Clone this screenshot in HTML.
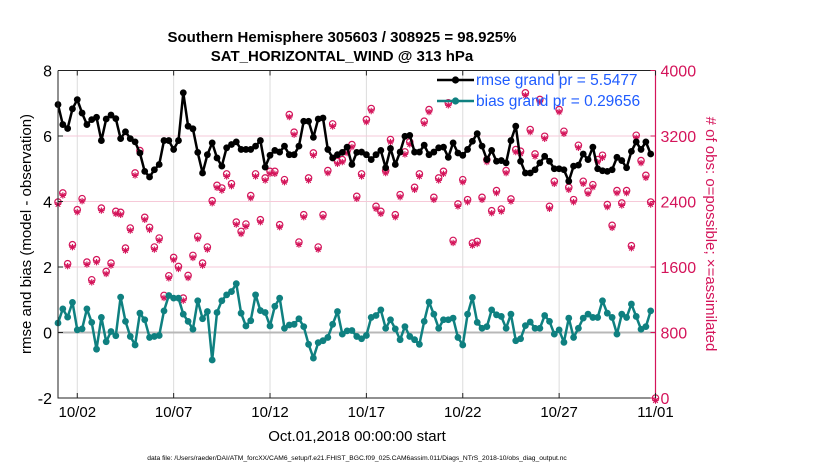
<!DOCTYPE html>
<html><head><meta charset="utf-8"><style>
body{margin:0;background:#fff;}
svg{display:block;font-family:"Liberation Sans",Arial,sans-serif;}
</style></head><body>
<svg id="chart" width="830" height="470" viewBox="0 0 830 470" xmlns="http://www.w3.org/2000/svg">
<g font-weight="bold" font-size="15" text-anchor="middle" fill="#000">
<text x="342" y="42">Southern Hemisphere 305603 / 308925 = 98.925%</text>
<text x="342" y="61">SAT_HORIZONTAL_WIND @ 313 hPa</text>
</g>
<g id="grid"></g>
<g id="marks"></g>
<g id="axes"></g>
<text x="31" y="234" transform="rotate(-90 31 234)" text-anchor="middle" font-size="15" fill="#000">rmse and bias (model - observation)</text>
<text x="706" y="234" transform="rotate(90 706 234)" text-anchor="middle" font-size="15" fill="#d4145a"># of obs: o=possible; ×=assimilated</text>
<text x="357" y="441" text-anchor="middle" font-size="15" fill="#000">Oct.01,2018 00:00:00 start</text>
<text x="357" y="460" text-anchor="middle" font-size="6.7" fill="#000">data file: /Users/raeder/DAI/ATM_forcXX/CAM6_setup/f.e21.FHIST_BGC.f09_025.CAM6assim.011/Diags_NTrS_2018-10/obs_diag_output.nc</text>
<g id="legend"></g>
</svg>
<script>
const rmse=[6.96,6.35,6.23,6.83,7.11,6.7,6.35,6.5,6.57,5.86,6.52,6.64,6.53,5.92,6.13,5.92,5.82,5.48,4.92,4.75,4.97,5.13,5.86,5.86,5.59,5.86,7.32,6.3,6.22,5.5,4.87,5.43,5.79,5.33,5.08,5.64,5.74,5.82,5.59,5.59,5.59,5.69,5.86,5.05,5.41,5.56,5.51,5.69,5.43,5.43,5.69,6.45,6.45,5.96,6.52,6.55,5.59,5.33,5.43,5.5,5.66,5.13,5.5,5.51,5.43,5.28,5.43,5.56,5.03,5.62,5.13,5.51,5.99,6.02,5.51,5.51,5.72,5.43,5.51,5.64,5.66,5.35,5.79,5.48,5.41,5.59,5.84,6.07,5.69,5.28,5.56,5.23,5.25,5.18,5.86,6.3,5.23,4.87,4.87,4.97,5.18,5.38,5.23,5.0,5.0,4.97,4.62,5.08,5.11,5.45,5.28,5.66,5.0,4.94,4.92,4.97,5.35,5.25,5.03,5.53,5.82,5.59,5.82,5.45];
const bias=[0.29,0.72,0.47,0.92,0.08,0.11,0.72,0.31,-0.51,0.46,-0.28,0.03,-0.1,1.08,0.34,-0.12,-0.38,0.59,0.39,-0.15,-0.12,-0.09,0.66,1.13,1.05,1.05,0.56,0.34,0.1,0.97,0.42,0.64,-0.84,0.61,0.97,1.15,1.25,1.49,0.59,0.2,0.36,1.15,0.67,0.61,0.2,0.8,1.05,0.13,0.23,0.25,0.42,0.18,-0.36,-0.78,-0.31,-0.25,-0.15,0.25,0.64,-0.05,0.05,0.06,-0.12,-0.19,-0.09,0.46,0.52,0.69,0.13,0.39,0.11,-0.22,0.18,-0.12,-0.22,-0.36,0.34,0.93,0.56,0.13,0.39,0.39,0.44,-0.15,-0.38,0.56,1.07,0.31,0.13,0.18,0.69,0.54,0.49,0.13,0.56,-0.25,-0.19,0.21,0.32,0.13,0.13,0.52,0.34,-0.05,0.08,-0.3,0.44,-0.15,0.13,0.44,0.56,0.46,0.46,0.97,0.59,0.46,-0.05,0.56,0.46,0.87,0.49,0.1,0.18,0.66];
const obsCount=[2394,2504,1640,1872,2300,2435,1660,1444,1689,2320,1546,1648,2280,2268,1831,2076,2749,3022,2207,2084,1844,1954,1253,1493,1717,1607,1220,1497,1742,1974,1648,1844,2410,2598,2565,2737,2618,2149,2035,2125,2472,2737,2178,2688,2769,2769,2117,2667,3462,3246,1905,2239,2688,2993,1844,2239,2778,3348,2891,2912,3022,3095,2463,2737,3401,3536,2341,2280,2778,3157,2239,2484,3006,3128,2573,2737,3381,3523,2451,2688,2769,3605,1925,2370,2667,2423,1893,1913,2451,2912,2288,2533,2308,2778,2431,3034,3014,3727,3279,2981,3646,3197,2341,2647,3523,3258,2573,2423,3087,2647,2525,2606,2912,2965,2362,2109,2533,2382,2533,1860,3209,2900,2720,2394,0];
const leftTicks=[-2,0,2,4,6,8];
const rightTicks=[0,800,1600,2400,3200,4000];
const dateTicks=[1,6,11,16,21,26,31];
const dateLabels=['10/02','10/07','10/12','10/17','10/22','10/27','11/01'];
const legendLabels=['rmse grand pr = 5.5477','bias grand pr = 0.29656'];

const X0=58,X1=655.5,Y0=70.5,Y1=398;
const NS='http://www.w3.org/2000/svg';
const PINK='#d4145a',TEAL='#0f8080';
function xs(d){return X0+(d/31)*(X1-X0);}
function yl(v){return Y1-(v+2)/10*(Y1-Y0);}
function yr(c){return Y1-c/4000*(Y1-Y0);}
function mk(tag,attrs,parent){const e=document.createElementNS(NS,tag);for(const k in attrs)e.setAttribute(k,attrs[k]);parent.appendChild(e);return e;}
const grid=document.getElementById('grid'),marks=document.getElementById('marks'),axes=document.getElementById('axes'),leg=document.getElementById('legend');

dateTicks.forEach((d,i)=>{const l=mk('line',{x1:xs(d),x2:xs(d),y1:Y0,y2:Y1,stroke:'#dcdcdc','stroke-width':1},grid);

});
[1600,2400,3200].forEach(c=>{const l=mk('line',{x1:X0,x2:X1,y1:yr(c),y2:yr(c),stroke:'#f6c9d8','stroke-width':1},grid);

});
const zl=mk('line',{x1:X0,x2:X1,y1:yl(0),y2:yl(0),stroke:'#b8b8b8','stroke-width':2},grid);



obsCount.forEach((c,i)=>{const x=xs(i/4),y=yr(c);
const g=mk('g',{},marks);


mk('circle',{cx:x,cy:y,r:3.2,fill:'none',stroke:PINK,'stroke-width':1.2},g);
const ay=y+2.5,s=3.2;
mk('path',{d:`M${x-s},${ay}H${x+s}M${x},${ay-s}V${ay+s}M${x-2.3},${ay-2.3}L${x+2.3},${ay+2.3}M${x-2.3},${ay+2.3}L${x+2.3},${ay-2.3}`,stroke:PINK,'stroke-width':1.1},g);
});

function series(vals,color,name){
const pts=vals.map((v,i)=>xs(i/4).toFixed(1)+','+yl(v).toFixed(1)).join(' ');
const pl=mk('polyline',{points:pts,fill:'none',stroke:color,'stroke-width':2.5,'stroke-linejoin':'round'},marks);


vals.forEach((v,i)=>{const c=mk('circle',{cx:xs(i/4),cy:yl(v),r:3.4,fill:color},marks);

});
}
series(rmse,'#000','rmse');
series(bias,TEAL,'bias');

const lf=mk('path',{d:`M${X0},${Y0}H${X1}M${X0},${Y0}V${Y1}H${X1}`,fill:'none',stroke:'#222','stroke-width':1},axes);


const ra=mk('line',{x1:X1,x2:X1,y1:Y0,y2:Y1,stroke:PINK,'stroke-width':1.2},axes);


leftTicks.forEach(v=>{const y=yl(v);
mk('line',{x1:X0,x2:X0+5,y1:y,y2:y,stroke:'#222'},axes);
const t=mk('text',{x:X0-6,y:y+6,'text-anchor':'end','font-size':16,fill:'#000'},axes);


t.textContent=v;});
rightTicks.forEach(c=>{const y=yr(c);
mk('line',{x1:X1-5,x2:X1,y1:y,y2:y,stroke:PINK},axes);
const t=mk('text',{x:X1+5,y:y+6,'font-size':16,fill:PINK},axes);


t.textContent=c;});
dateTicks.forEach((d,i)=>{const x=xs(d);
mk('line',{x1:x,x2:x,y1:Y1,y2:Y1-5,stroke:'#222'},axes);
mk('line',{x1:x,x2:x,y1:Y0,y2:Y0+5,stroke:'#222'},axes);
const t=mk('text',{x:x,y:Y1+19,'text-anchor':'middle','font-size':15,fill:'#000'},axes);


t.textContent=dateLabels[i];});

[['#000',85],[TEAL,106]].forEach((s,i)=>{
const g=mk('g',{},leg);


mk('line',{x1:437,x2:474,y1:s[1]-5,y2:s[1]-5,stroke:s[0],'stroke-width':2.5},g);
mk('circle',{cx:455.5,cy:s[1]-5,r:3.6,fill:s[0]},g);
const t=mk('text',{x:476,y:s[1],'font-size':15.5,fill:'#1f5cff'},g);t.textContent=legendLabels[i];
});
</script>
</body></html>
